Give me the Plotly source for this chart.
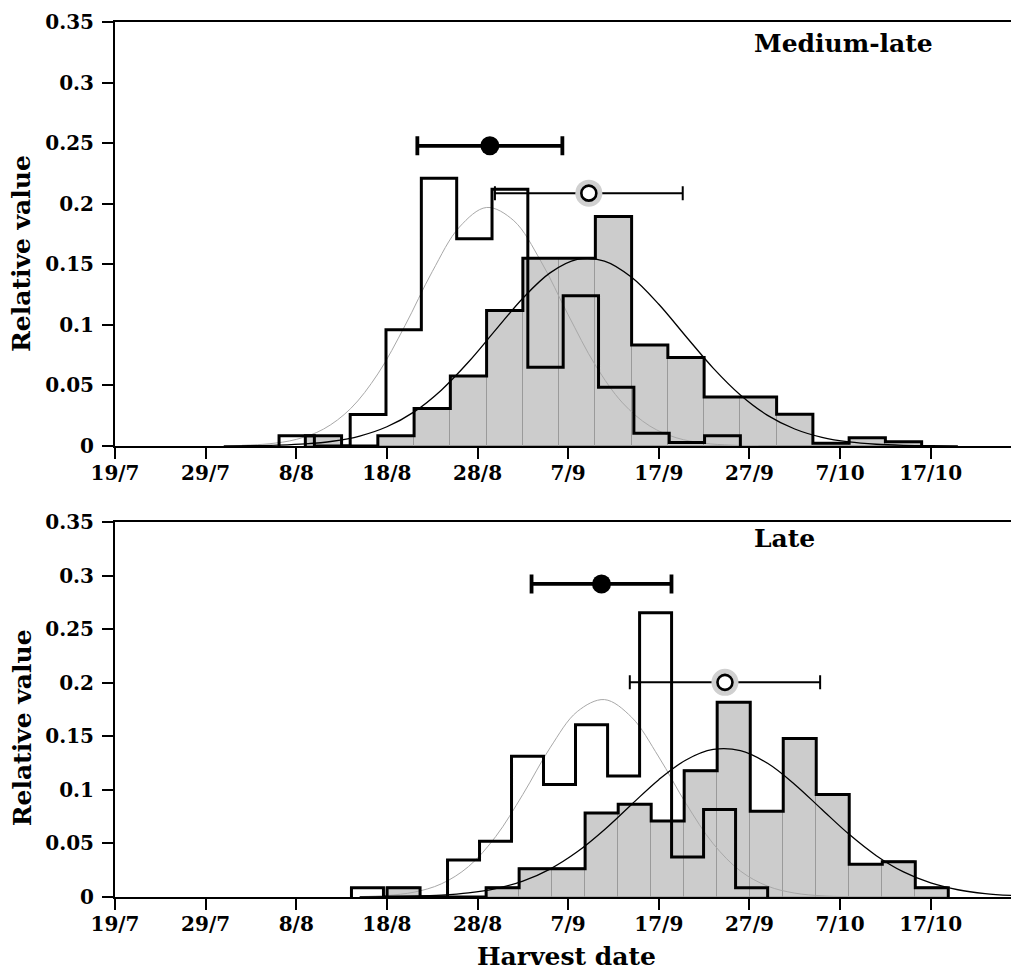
import plotly.graph_objects as go

# ---------------- data (x in day-of-year; 200 = 19 July) ----------------
tick_vals = [200, 210, 220, 230, 240, 250, 260, 270, 280, 290]
tick_text = ["19/7", "29/7", "8/8", "18/8", "28/8", "7/9", "17/9", "27/9", "7/10", "17/10"]
y_tick_vals = [0, 0.05, 0.1, 0.15, 0.2, 0.25, 0.3, 0.35]
y_tick_text = ["0", "0.05", "0.1", "0.15", "0.2", "0.25", "0.3", "0.35"]

# Medium-late panel
ml_open_edges = [218.1, 222.0, 225.95, 229.9, 233.8, 237.7, 241.6, 245.55, 249.45, 253.35,
                 257.25, 261.15, 265.05, 269.0]
ml_open_vals = [0.0085, 0.0, 0.026, 0.096, 0.221, 0.171, 0.212, 0.065, 0.124, 0.0485,
                0.0105, 0.0028, 0.0085]
ml_fill_edges = [221, 225, 229, 233, 237, 241, 245, 249, 253, 257, 261, 265, 269, 273,
                 277, 281, 285, 289]
ml_fill_vals = [0.0085, 0.0, 0.0085, 0.031, 0.0578, 0.1118, 0.155, 0.155, 0.1894, 0.0834,
                0.073, 0.0405, 0.0405, 0.0262, 0.0022, 0.0069, 0.0036]
ml_open_curve_x = [214, 217, 220, 223, 226, 229, 232, 235, 238, 241, 244, 247, 250, 253,
                   256, 259, 262, 265, 268, 271]
ml_open_curve_y = [0.00054, 0.00184, 0.00544, 0.01393, 0.0309, 0.0595, 0.0994, 0.1439,
                   0.1807, 0.1969, 0.1860, 0.1524, 0.1083, 0.0667, 0.0356, 0.01653,
                   0.00664, 0.00232, 0.0007, 0.00018]
ml_fill_curve_x = [212, 215, 218, 221, 224, 227, 230, 233, 236, 239, 242, 245, 248, 251,
                   254, 257, 260, 263, 266, 269, 272, 275, 278, 281, 284, 287, 290, 293]
ml_fill_curve_y = [0.00009, 0.00026, 0.0007, 0.00172, 0.00392, 0.00823, 0.01587, 0.0282,
                   0.0461, 0.0693, 0.0958, 0.1220, 0.1429, 0.1540, 0.1527, 0.1393, 0.1170,
                   0.0904, 0.0643, 0.0421, 0.0253, 0.01402, 0.00715, 0.00335, 0.00145,
                   0.00058, 0.00021, 0.00007]
ml_open_mean, ml_open_sd, ml_open_level = [241.36], [8.0], [0.2478]
ml_fill_mean, ml_fill_sd, ml_fill_level = [252.28], [10.36], [0.2087]

# Late panel
lt_open_edges = [226.09, 229.62, 233.15, 236.69, 240.22, 243.75, 247.28, 250.81, 254.35,
                 257.88, 261.41, 264.94, 268.47, 272.01]
lt_open_vals = [0.0087, 0.0, 0.0, 0.0346, 0.052, 0.1315, 0.105, 0.161, 0.113, 0.2655,
                0.0374, 0.0817, 0.0087]
lt_fill_edges = [230.02, 233.66, 237.30, 240.95, 244.59, 248.23, 251.87, 255.52, 259.16,
                 262.80, 266.44, 270.09, 273.73, 277.37, 281.01, 284.66, 288.30, 291.94]
lt_fill_vals = [0.0087, 0.0, 0.0, 0.0087, 0.0265, 0.0265, 0.0785, 0.0866, 0.071, 0.118,
                0.182, 0.080, 0.148, 0.0957, 0.0305, 0.033, 0.0087]
lt_open_curve_x = [227, 230, 233, 236, 239, 242, 245, 248, 251, 254, 257, 260, 263, 266,
                   269, 272, 275, 278, 281]
lt_open_curve_y = [0.000385, 0.00143, 0.00452, 0.01225, 0.0284, 0.0564, 0.0958, 0.1393,
                   0.1732, 0.1844, 0.1679, 0.1308, 0.0873, 0.0498, 0.0243, 0.01017,
                   0.00363, 0.00111, 0.00029]
lt_fill_curve_x = [227, 230, 233, 236, 239, 242, 245, 248, 251, 254, 257, 260, 263, 266,
                   269, 272, 275, 278, 281, 284, 287, 290, 293, 296, 299]
lt_fill_curve_y = [0.00009, 0.00026, 0.00069, 0.00168, 0.00376, 0.00778, 0.01484, 0.0261,
                   0.0422, 0.0629, 0.0865, 0.1096, 0.1280, 0.1378, 0.1367, 0.1249, 0.1052,
                   0.0817, 0.0585, 0.0386, 0.0234, 0.01313, 0.00678, 0.00322, 0.00141]
lt_open_mean, lt_open_sd, lt_open_level = [253.68], [7.72], [0.2924]
lt_fill_mean, lt_fill_sd, lt_fill_level = [267.3], [10.5], [0.2005]

# ---------------- layout constants ----------------
W, H = 1011, 970
L, R, T, B = 115, 0, 22, 73
PW, PH = W - L - R, H - T - B
FONT = "DejaVu Serif"
X_RANGE = [200, 298.86]


def px_x(px):
    return (px - L) / PW


def px_y(py):
    return (H - B - py) / PH


def step_outline(edges, vals):
    xs, ys = [edges[0]], [0]
    for i, v in enumerate(vals):
        xs += [edges[i], edges[i + 1]]
        ys += [v, v]
    xs.append(edges[-1])
    ys.append(0)
    return xs, ys


fig = go.Figure()


def add_panel(xa, ya, open_e, open_v, fill_e, fill_v, oc_x, oc_y, fc_x, fc_y,
              om, osd, olev, fm, fsd, flev):
    centers = [(fill_e[i] + fill_e[i + 1]) / 2 for i in range(len(fill_v))]
    widths = [fill_e[i + 1] - fill_e[i] for i in range(len(fill_v))]
    fig.add_trace(go.Bar(x=centers, y=fill_v, width=widths, xaxis=xa, yaxis=ya,
                         marker=dict(color="#cccccc", line=dict(color="#9a9a9a", width=1)),
                         showlegend=False))
    fig.add_trace(go.Scatter(x=oc_x, y=oc_y, mode="lines", xaxis=xa, yaxis=ya,
                             line=dict(color="#a8a8a8", width=1, shape="spline"),
                             showlegend=False))
    fig.add_trace(go.Scatter(x=fc_x, y=fc_y, mode="lines", xaxis=xa, yaxis=ya,
                             line=dict(color="black", width=1.3, shape="spline"),
                             showlegend=False))
    for e, v in ((fill_e, fill_v), (open_e, open_v)):
        sx, sy = step_outline(e, v)
        fig.add_trace(go.Scatter(x=sx, y=sy, mode="lines", xaxis=xa, yaxis=ya,
                                 line=dict(color="black", width=3),
                                 showlegend=False))
    # filled-circle mean +/- sd
    fig.add_trace(go.Scatter(x=om, y=olev, mode="markers", xaxis=xa, yaxis=ya,
                             error_x=dict(type="data", array=osd, symmetric=True,
                                          thickness=3.8, width=9.5, color="black"),
                             marker=dict(color="black", size=19),
                             showlegend=False, cliponaxis=False))
    # open-circle mean +/- sd
    fig.add_trace(go.Scatter(x=fm, y=flev, mode="markers", xaxis=xa, yaxis=ya,
                             error_x=dict(type="data", array=fsd, symmetric=True,
                                          thickness=2, width=7, color="black"),
                             marker=dict(color="#d0d0d0", size=27),
                             showlegend=False, cliponaxis=False))
    fig.add_trace(go.Scatter(x=fm, y=flev, mode="markers", xaxis=xa, yaxis=ya,
                             marker=dict(color="white", size=15,
                                         line=dict(color="black", width=2.6)),
                             showlegend=False, cliponaxis=False))


add_panel("x", "y", ml_open_edges, ml_open_vals, ml_fill_edges, ml_fill_vals,
          ml_open_curve_x, ml_open_curve_y, ml_fill_curve_x, ml_fill_curve_y,
          ml_open_mean, ml_open_sd, ml_open_level, ml_fill_mean, ml_fill_sd, ml_fill_level)
add_panel("x2", "y2", lt_open_edges, lt_open_vals, lt_fill_edges, lt_fill_vals,
          lt_open_curve_x, lt_open_curve_y, lt_fill_curve_x, lt_fill_curve_y,
          lt_open_mean, lt_open_sd, lt_open_level, lt_fill_mean, lt_fill_sd, lt_fill_level)

tickfont = dict(family=FONT, size=20, color="black", weight="bold")
xcommon = dict(range=X_RANGE, tickvals=tick_vals, ticktext=tick_text, ticks="outside",
               ticklen=11, tickwidth=2, tickcolor="black", showline=True, linewidth=2,
               linecolor="black", mirror=True, showgrid=False, zeroline=False,
               tickfont=tickfont, ticklabelstandoff=-3)
ycommon = dict(range=[0, 0.35], tickvals=y_tick_vals, ticktext=y_tick_text,
               ticks="outside", ticklen=11, tickwidth=2, tickcolor="black",
               showline=True, linewidth=2, linecolor="black", showgrid=False,
               zeroline=False, tickfont=tickfont, ticklabelstandoff=4)

top_dom = [px_y(446), 1.0]
bot_dom = [0.0, px_y(522.3)]

fig.update_layout(
    width=W, height=H,
    margin=dict(l=L, r=R, t=T, b=B, autoexpand=False),
    paper_bgcolor="white", plot_bgcolor="white",
    barmode="overlay", bargap=0,
    xaxis=dict(**xcommon, anchor="y"),
    yaxis=dict(**ycommon, domain=top_dom, anchor="x"),
    xaxis2=dict(**xcommon, anchor="y2"),
    yaxis2=dict(**ycommon, domain=bot_dom, anchor="x2"),
    showlegend=False,
)

title_font = dict(family=FONT, size=25, color="black", weight="bold")
annos = [
    dict(text="Medium-late", x=px_x(843.3), y=px_y(43), font=title_font),
    dict(text="Late", x=px_x(784.2), y=px_y(538.3), font=title_font),
    dict(text="Relative value", x=px_x(22), y=px_y(254), textangle=-90, font=title_font),
    dict(text="Relative value", x=px_x(22), y=px_y(728.3), textangle=-90, font=title_font),
    dict(text="Harvest date", x=px_x(566), y=px_y(956), font=title_font),
]
for a in annos:
    fig.add_annotation(xref="paper", yref="paper", xanchor="center", yanchor="middle",
                       showarrow=False, **a)

fig.write_html(
    "out.html",
    config={"displayModeBar": False},
    post_script="document.body.style.margin='0';document.body.style.overflow='hidden';",
)
